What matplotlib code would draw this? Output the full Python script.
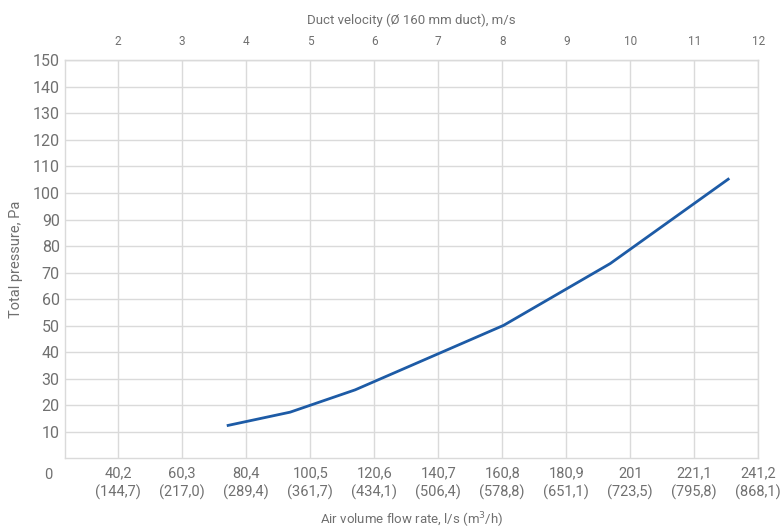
import matplotlib
matplotlib.use("Agg")
import matplotlib.pyplot as plt

# Curve: flow rate (l/s) vs total pressure (Pa)
flow_ls   = [74.3, 94.2, 114.6, 161.2, 194.7, 232.1]
pressure  = [12.3, 17.4, 25.8, 50.1, 73.4, 105.5]

# Bottom axis ticks (l/s with m3/h in brackets)
x_ticks   = [40.2, 60.3, 80.4, 100.5, 120.6, 140.7, 160.8, 180.9, 201.0, 221.1, 241.2]
x_labels  = ["40,2\n(144,7)", "60,3\n(217,0)", "80,4\n(289,4)", "100,5\n(361,7)",
             "120,6\n(434,1)", "140,7\n(506,4)", "160,8\n(578,8)", "180,9\n(651,1)",
             "201\n(723,5)", "221,1\n(795,8)", "241,2\n(868,1)"]
# Top axis: duct velocity for a 160 mm duct, m/s
v_ticks   = [2, 3, 4, 5, 6, 7, 8, 9, 10, 11, 12]
y_ticks   = list(range(10, 151, 10))

DUCT_AREA = 0.0201  # m2, so 1 m/s = 20.1 l/s
TEXT      = "#707070"
GRID      = "#dadada"

plt.rcParams["font.family"] = ["Roboto", "DejaVu Sans"]

fig = plt.figure(figsize=(7.82, 5.29), dpi=100)
ax = fig.add_axes([0.0835, 0.1336, 0.8862, 0.7524])

ax.plot(flow_ls, pressure, color="#1d5ba6", linewidth=2.0, solid_capstyle="butt")

ax.set_xlim(23.6, 241.2)
ax.set_ylim(0, 150)
ax.set_xticks(x_ticks)
ax.set_xticklabels(x_labels, fontsize=10.5, color=TEXT, linespacing=1.3)
ax.set_yticks(y_ticks)
ax.set_yticklabels([str(v) for v in y_ticks], fontsize=11.5, color=TEXT)
ax.tick_params(axis="both", length=0)
ax.tick_params(axis="x", pad=6)
ax.tick_params(axis="y", pad=4)
ax.grid(True, color=GRID, linewidth=1.0)
for s in ax.spines.values():
    s.set_color(GRID)
    s.set_linewidth(1.0)

# "0" sits below the axis, level with the x tick labels
ax.annotate("0", xy=(0, 0), xycoords="axes fraction", xytext=(-12, -7),
            textcoords="offset points", ha="center", va="top",
            fontsize=10.5, color=TEXT)

ax.set_ylabel("Total pressure, Pa", fontsize=10.5, color=TEXT, labelpad=7)
ax.set_xlabel("Air volume flow rate, l/s (m$^3$/h)", fontsize=9.5, color=TEXT, labelpad=8)

sec = ax.secondary_xaxis("top", functions=(lambda q: q / 1000 / DUCT_AREA,
                                           lambda v: v * DUCT_AREA * 1000))
sec.set_xticks(v_ticks)
sec.set_xticklabels([str(v) for v in v_ticks], fontsize=8.5, color=TEXT)
sec.tick_params(length=0, pad=9)
sec.spines["top"].set_color(GRID)
sec.set_xlabel("Duct velocity (Ø 160 mm duct), m/s", fontsize=9.5, color=TEXT, labelpad=8)

fig.savefig("out.png", dpi=100)
